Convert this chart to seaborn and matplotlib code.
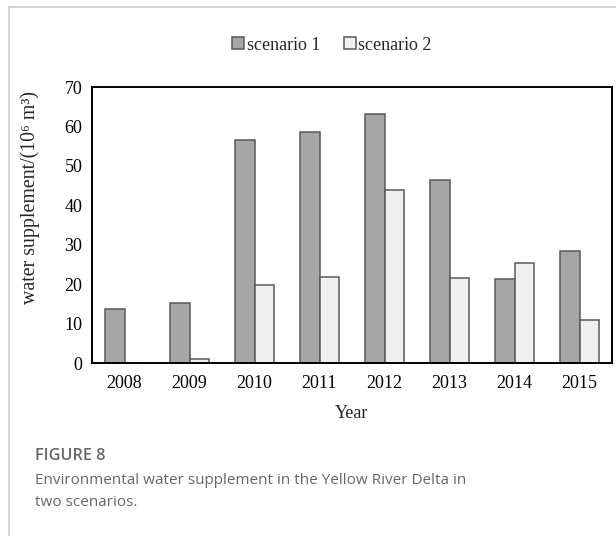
import matplotlib
matplotlib.use("Agg")
import matplotlib.pyplot as plt
from matplotlib.lines import Line2D
from matplotlib.patches import Patch
from matplotlib.ticker import FixedLocator
import numpy as np
import pandas as pd
import seaborn as sns

# Environmental water supplement (10^6 m^3) by year
years = ["2008", "2009", "2010", "2011", "2012", "2013", "2014", "2015"]
scenario_1 = [13.6, 15.2, 56.5, 58.6, 63.1, 46.4, 21.3, 28.5]
scenario_2 = [0.0, 0.9, 19.8, 21.8, 43.8, 21.5, 25.3, 10.9]
series_names = ["scenario 1", "scenario 2"]
y_ticks = [0, 10, 20, 30, 40, 50, 60, 70]

df = pd.DataFrame({
    "Year": years * 2,
    "value": scenario_1 + scenario_2,
    "scenario": [series_names[0]] * len(years) + [series_names[1]] * len(years),
})

sns.set_theme(style="white")
plt.rcParams["font.family"] = ["Liberation Serif", "DejaVu Serif"]

fill_colors = ["#a6a6a6", "#f0f0f0"]
edge_color = "#595959"
fs = 13

fig = plt.figure(figsize=(6.16, 5.36), dpi=100)
ax = fig.add_axes([92 / 616, 1 - 363 / 536, 520 / 616, 276 / 536])

sns.barplot(
    data=df, x="Year", y="value", hue="scenario", order=years,
    hue_order=series_names, palette=fill_colors, width=0.6,
    edgecolor=edge_color, linewidth=1.1, saturation=1, ax=ax, legend=False,
)

ax.set_xlim(-0.5, len(years) - 0.5)
ax.set_ylim(0, 70)
ax.set_yticks(y_ticks)
ax.set_yticklabels([str(t) for t in y_ticks], fontsize=fs)
ax.tick_params(axis="y", direction="in", length=3, width=1, color="black", pad=7)
ax.tick_params(axis="x", which="major", length=0, pad=9, labelsize=fs)
ax.xaxis.set_minor_locator(FixedLocator(np.arange(-0.5, len(years), 1.0)))
ax.tick_params(axis="x", which="minor", direction="out", length=4, width=1, color="black")

for side in ["left", "right", "top", "bottom"]:
    ax.spines[side].set_visible(True)
    ax.spines[side].set_color("black")
    ax.spines[side].set_linewidth(1.4)

ax.set_xlabel("Year", fontsize=fs)
ax.xaxis.set_label_coords(0.5, -(413 - 363) / 276)
ax.xaxis.label.set_va("center")
ax.set_ylabel("water supplement/(10⁶ m³)", fontsize=14.3)
ax.yaxis.set_label_coords(-(92 - 30) / 520, (363 - 198) / 276)
ax.yaxis.label.set_va("center")
for lab in ax.get_yticklabels() + ax.get_xticklabels():
    lab.set_color("black")

handles = [Patch(facecolor=c, edgecolor=edge_color, linewidth=1.1) for c in fill_colors]
fig.legend(
    handles, series_names, loc="center", bbox_to_anchor=(332 / 616, 1 - 45 / 536),
    ncol=2, frameon=False, fontsize=fs, handlelength=0.65, handleheight=0.65,
    handletextpad=0.15, columnspacing=1.3,
)

# card border
border = "#cccccc"
fig.add_artist(Line2D([9 / 616, 9 / 616], [0, 1 - 7 / 536], color=border, lw=1.2,
                      transform=fig.transFigure))
fig.add_artist(Line2D([9 / 616, 1], [1 - 7 / 536, 1 - 7 / 536], color=border, lw=1.2,
                      transform=fig.transFigure))

# caption
cap_color = "#666666"
cap_font = ["Open Sans", "DejaVu Sans"]
fig.text(35 / 616, 1 - 456 / 536, "FIGURE 8", fontsize=11.7, fontweight="semibold",
         family=cap_font, color=cap_color, va="center", ha="left")
fig.text(35 / 616, 1 - 480 / 536,
         "Environmental water supplement in the Yellow River Delta in",
         fontsize=11, family=cap_font, color=cap_color, va="center", ha="left")
fig.text(35 / 616, 1 - 503 / 536, "two scenarios.",
         fontsize=11, family=cap_font, color=cap_color, va="center", ha="left")

fig.savefig("out.png", dpi=100)
